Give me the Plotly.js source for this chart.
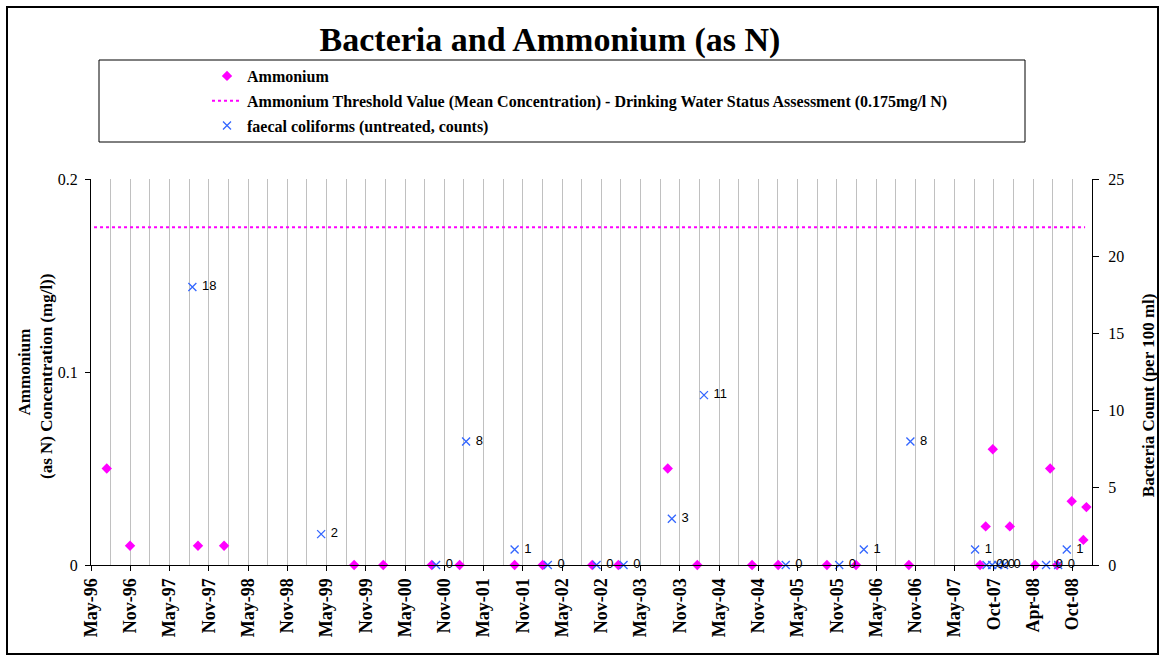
<!DOCTYPE html>
<html><head><meta charset="utf-8">
<script src="https://cdn.plot.ly/plotly-3.0.1.min.js"></script>
<style>html,body{margin:0;padding:0;background:#fff}#chart{width:1159px;height:661px}</style>
</head><body><div id="chart"></div>
<script>
// ---- data ----
const ammoniumDates = ["1996-07-27","1996-11-12","1997-09-23","1998-01-22","1999-09-17","2000-01-30","2000-09-11","2001-01-18","2001-09-30","2002-02-07","2002-09-25","2003-01-24","2003-09-10","2004-01-25","2004-10-05","2005-02-03","2005-09-17","2006-01-30","2006-10-02","2007-08-28","2007-09-23","2007-10-26","2008-01-13","2008-05-09","2008-07-18","2008-08-19","2008-10-26","2008-12-19","2009-01-02"];
const ammoniumValues = [0.05,0.01,0.01,0.01,0,0,0,0,0,0,0,0,0.05,0,0,0,0,0,0,0,0.02,0.06,0.02,0,0.05,0,0.033,0.013,0.03];
const coliformDates = ["1997-08-28","1999-04-17","2000-10-01","2001-02-17","2001-09-30","2002-03-03","2002-10-15","2003-02-17","2003-09-29","2004-02-25","2005-03-10","2005-11-13","2006-03-07","2006-10-09","2007-08-05","2007-09-27","2007-10-23","2007-11-20","2007-12-17","2008-06-29","2008-08-24","2008-10-03"];
const coliformCounts = [18,2,0,8,1,0,0,0,3,11,0,0,1,8,1,0,0,0,0,0,0,1];
const thresholdDates = ["1996-05-29","2008-12-27"];
const thresholdValues = [0.175,0.175];
const xTickLabels = ["May-96","Nov-96","May-97","Nov-97","May-98","Nov-98","May-99","Nov-99","May-00","Nov-00","May-01","Nov-01","May-02","Nov-02","May-03","Nov-03","May-04","Nov-04","May-05","Nov-05","May-06","Nov-06","May-07","Oct-07","Apr-08","Oct-08"];
const axisStart = "1996-05-15";
const tickStepDays = 182;

// ---- helpers ----
function addDays(iso, n){
  const p = iso.split('-').map(Number);
  const d = new Date(Date.UTC(p[0], p[1]-1, p[2]) + n*86400000);
  return d.toISOString().slice(0,10);
}
const tickVals = xTickLabels.map((_, k) => addDays(axisStart, k*tickStepDays));
const minorVals = xTickLabels.map((_, k) => addDays(axisStart, k*tickStepDays + tickStepDays/2));
const axisEnd = addDays(axisStart, tickStepDays*25.5);

const SERIF = 'Liberation Serif, Times New Roman, serif';
const SANS = 'Liberation Sans, Arial, sans-serif';
const MAGENTA = '#FF00FF';
const BLUE = '#3366FF';
const NB = '\u00a0';

const traces = [
  {
    name: 'Ammonium', legendgroup: 'a',
    x: ammoniumDates, y: ammoniumValues, type: 'scatter', mode: 'markers',
    marker: {symbol: 'diamond', size: 8, color: MAGENTA},
    cliponaxis: false, yaxis: 'y'
  },
  {
    name: 'Ammonium Threshold Value (Mean Concentration) - Drinking Water Status Assessment (0.175mg/l N)', legendgroup: 'b',
    x: thresholdDates, y: thresholdValues, type: 'scatter', mode: 'lines',
    line: {color: MAGENTA, width: 2, dash: 'dot'}, yaxis: 'y'
  },
  {
    name: 'faecal coliforms (untreated, counts)', legendgroup: 'c',
    x: coliformDates, y: coliformCounts, type: 'scatter', mode: 'markers+text',
    text: coliformCounts.map(v => NB + v), textposition: 'middle right',
    textfont: {family: SANS, size: 13, color: '#000'},
    marker: {symbol: 'x-thin-open', size: 8, color: BLUE, line: {color: BLUE, width: 1.3}},
    cliponaxis: false, yaxis: 'y2'
  }
];

// plot area in px: x 91..1092, y 179..565
const L = 91, R = 1092, T = 179, B = 565;
const px = v => (v - L)/(R - L);
const py = v => (B - v)/(B - T);

const layout = {
  width: 1159, height: 661,
  margin: {l: L, r: 1159 - R, t: T, b: 661 - B},
  paper_bgcolor: '#fff', plot_bgcolor: '#fff',
  font: {family: SERIF, color: '#000'},
  showlegend: true,
  title: {
    text: '<b>Bacteria and Ammonium (as N)</b>',
    font: {family: SERIF, size: 34, color: '#000'},
    xref: 'container', x: 550/1159, xanchor: 'center',
    yref: 'container', y: 1 - 39/661, yanchor: 'middle'
  },
  xaxis: {
    type: 'date', range: [axisStart, axisEnd],
    tickmode: 'array', tickvals: tickVals, ticktext: xTickLabels,
    tickangle: -90, tickfont: {family: SERIF, size: 18, weight: 'bold', color: '#000'},
    ticks: 'outside', ticklen: 5, tickcolor: '#000', tickwidth: 1,
    showgrid: true, gridcolor: '#C0C0C0', gridwidth: 1,
    showline: true, linecolor: '#000', linewidth: 1, zeroline: false,
    minor: {tickmode: 'array', tickvals: minorVals, showgrid: true, gridcolor: '#C0C0C0', gridwidth: 1, ticks: ''},
    fixedrange: true
  },
  yaxis: {
    range: [0, 0.2], tickmode: 'array', tickvals: [0, 0.1, 0.2],
    showgrid: false, zeroline: false, showline: true, linecolor: '#000', linewidth: 1,
    ticks: 'outside', ticklen: 5, tickcolor: '#000', ticklabelstandoff: 4,
    tickfont: {family: SERIF, size: 16, color: '#000'},
    title: {text: '<b>Ammonium<br>(as N) Concentration (mg/l))' + NB.repeat(2) + '</b>', font: {family: SERIF, size: 17, color: '#000'}, standoff: 0},
    fixedrange: true
  },
  yaxis2: {
    overlaying: 'y', side: 'right', range: [0, 25], tickmode: 'linear', tick0: 0, dtick: 5,
    showgrid: false, zeroline: false, showline: true, linecolor: '#000', linewidth: 1,
    ticks: 'outside', ticklen: 6, tickcolor: '#000', ticklabelstandoff: 6,
    tickfont: {family: SERIF, size: 16, color: '#000'},
    title: {text: '<b>Bacteria Count (per 100 ml)' + NB.repeat(11) + '</b>', font: {family: SERIF, size: 17, color: '#000'}, standoff: 18},
    fixedrange: true
  },
  legend: {
    x: px(207), y: py(59), xanchor: 'left', yanchor: 'top',
    bgcolor: 'rgba(0,0,0,0)', borderwidth: 0,
    traceorder: 'grouped', tracegroupgap: 1,
    font: {family: SERIF, size: 16, weight: 'bold', color: '#000'}
  },
  shapes: [
    {type: 'rect', xref: 'paper', yref: 'paper', x0: px(7), x1: px(1158), y0: py(654), y1: py(7), line: {color: '#000', width: 2}, fillcolor: 'rgba(0,0,0,0)', layer: 'above'},
    {type: 'rect', xref: 'paper', yref: 'paper', x0: px(99), x1: px(1025), y0: py(142), y1: py(60), line: {color: '#000', width: 1}, fillcolor: 'rgba(0,0,0,0)', layer: 'above'}
  ]
};

Plotly.newPlot('chart', traces, layout, {displayModeBar: false, staticPlot: true});
</script>
</body></html>
